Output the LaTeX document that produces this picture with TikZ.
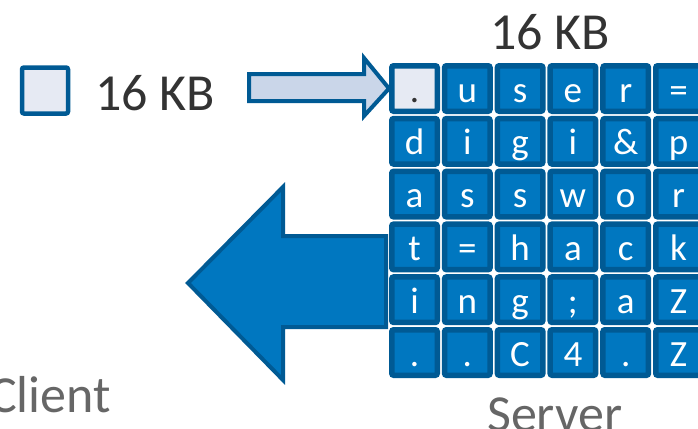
\documentclass[tikz,border=0pt]{standalone}
\usepackage{fontspec}
\setmainfont{Carlito}
\definecolor{cellfill}{HTML}{0077C0}
\definecolor{celledge}{HTML}{005A94}
\definecolor{lightfill}{HTML}{E6EAF3}
\definecolor{arrowlight}{HTML}{CAD6E9}
\definecolor{labeltext}{HTML}{333333}
\definecolor{roletext}{HTML}{666666}
\tikzset{
  cell/.style={draw=celledge, fill=cellfill, line width=5.5pt, rounded corners=2pt,
    minimum size=45.5pt, inner sep=0pt},
  celltxt/.style={anchor=base, inner sep=0pt, text=white, font=\fontsize{37}{40}\selectfont},
  bigtxt/.style={inner sep=0pt, font=\fontsize{52}{60}\selectfont},
}
\begin{document}
\begin{tikzpicture}[x=1pt,y=-1pt]
\useasboundingbox (0,0) rectangle (698,428);

% request block and its size
\node[cell, fill=lightfill, line width=4.5pt, minimum size=46pt] (req) at (45,90.5) {};
\node[bigtxt, anchor=base west, text=labeltext] (reqsize) at (95,110) {16 KB};

% server memory grid, one row of bytes per line
\foreach \r/\rowtxt in {0/{.,u,s,e,r,=},1/{d,i,g,i,\&,p},2/{a,s,s,w,o,r},3/{t,=,h,a,c,k},4/{i,n,g,;,a,Z},5/{.,.,C,4,.,Z}}{
  \foreach \ch [count=\c from 0] in \rowtxt {
    \pgfmathsetmacro\cx{414.5+52.8*\c}
    \pgfmathsetmacro\cy{88.5+52.8*\r}
    \ifnum\r=0 \ifnum\c=0
      \node[cell, fill=lightfill] (m-\r-\c) at (\cx,\cy) {};
      \node[celltxt, text=labeltext] at (\cx,\cy+13.5) {\ch};
    \else
      \node[cell] (m-\r-\c) at (\cx,\cy) {};
      \node[celltxt] at (\cx,\cy+13.5) {\ch};
    \fi\else
      \node[cell] (m-\r-\c) at (\cx,\cy) {};
      \node[celltxt] at (\cx,\cy+13.5) {\ch};
    \fi
  }
}

\node[bigtxt, anchor=base, text=labeltext] (memsize) at (550,50) {16 KB};

% request arrow into the first byte
\draw[line width=4pt, draw=celledge, fill=arrowlight, line join=miter]
  (249,74) -- (364,74) -- (364,58) -- (m-0-0.west) -- (364,116) -- (364,101) -- (249,101) -- cycle;

% response arrow back to the client
\draw[line width=4pt, draw=celledge, fill=cellfill, line join=miter]
  (386,236) -- (283,236) -- (283,187) -- (188,283) -- (283,380) -- (283,327) -- (386,327) -- cycle;

% roles
\node[bigtxt, anchor=base west, text=roletext] (client) at (-11,412) {Client};
\node[bigtxt, anchor=base west, text=roletext] (server) at (487,431) {Server};
\end{tikzpicture}
\end{document}
